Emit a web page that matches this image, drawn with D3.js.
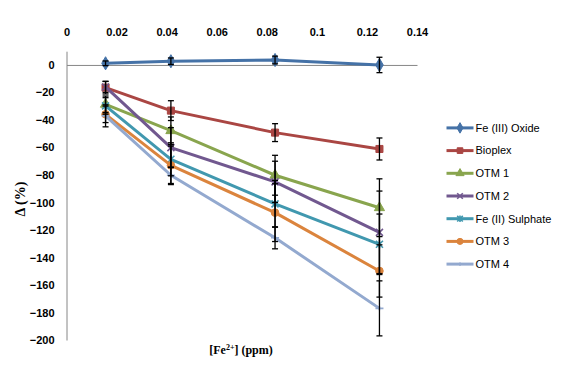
<!DOCTYPE html>
<html><head><meta charset="utf-8">
<script src="https://cdn.jsdelivr.net/npm/d3@7"></script>
<style>body{margin:0;background:#fff}</style>
</head><body>
<svg id="c" width="564" height="368"></svg>
<script>
const xValues = [0.0156, 0.0417, 0.0833, 0.125];
const xTicks = [0, 0.02, 0.04, 0.06, 0.08, 0.1, 0.12, 0.14];
const yTicks = [0, -20, -40, -60, -80, -100, -120, -140, -160, -180, -200];
const seriesNames = ["Fe (III) Oxide", "Bioplex", "OTM 1", "OTM 2", "Fe (II) Sulphate", "OTM 3", "OTM 4"];
const feOxide = [1.2, 2.7, 3.6, 0];
const bioplex = [-16.5, -33.2, -49.2, -61.1];
const otm1 = [-28.6, -47.8, -80.2, -103.8];
const otm2 = [-16, -60.1, -85, -121.7];
const feSulphate = [-29.8, -68.6, -101, -130.4];
const otm3 = [-35.9, -73, -107.4, -149.8];
const otm4 = [-37, -80.2, -125.7, -177];
const errFeOxide = [1.7, 2.4, 2.8, 5.6];
const errBioplex = [4.6, 7.2, 6.5, 8];
const errOtm1 = [6, 10, 14.5, 21];
const errOtm2 = [4, 14.5, 15, 30];
const errFeSulphate = [6, 12, 17, 22];
const errOtm3 = [6, 14, 21, 19];
const errOtm4 = [8, 6, 8, 20];

const values = [feOxide, bioplex, otm1, otm2, feSulphate, otm3, otm4];
const errors = [errFeOxide, errBioplex, errOtm1, errOtm2, errFeSulphate, errOtm3, errOtm4];
const colors = ["#4572A7", "#AA4643", "#89A54E", "#71588F", "#4198AF", "#DB843D", "#93A9CF"];
const markers = ["diamond", "square", "triangle", "x", "star", "circle", "dash"];

const svg = d3.select("#c");
const x = d3.scaleLinear().domain([0, 0.14]).range([66.5, 417]);
const y = d3.scaleLinear().domain([10, -200]).range([51.2, 340]);
const font = "Liberation Sans, Arial, sans-serif";

// y axis
const yAxis = d3.axisLeft(y).tickValues(yTicks).tickSize(0).tickPadding(12);
const gy = svg.append("g").attr("transform", `translate(${x(0)},0)`).call(yAxis);
gy.select(".domain").attr("stroke", "#868686").attr("stroke-width", 1);
gy.selectAll("text").attr("font-family", font).attr("font-size", 11).attr("font-weight", "bold").attr("fill", "#000");

// x axis at y=0, labels at the top
const xAxis = d3.axisTop(x).tickValues(xTicks).tickFormat(d3.format("~g")).tickSize(0);
const gx = svg.append("g").attr("transform", `translate(0,${y(0)})`).call(xAxis);
gx.select(".domain").attr("stroke", "#868686").attr("stroke-width", 1);
gx.selectAll("text").attr("font-family", font).attr("font-size", 11).attr("font-weight", "bold").attr("fill", "#000")
  .attr("y", 32 - y(0)).attr("dy", "0.35em");

function drawMarker(g, type, cx, cy, color, k) {
  const sym = {diamond: [d3.symbolDiamond, 50], square: [d3.symbolSquare, 50], triangle: [d3.symbolTriangle, 45], circle: [d3.symbolCircle, 45]}[type];
  const r = 3.5 * k;
  if (sym) {
    g.append("path").attr("d", d3.symbol(sym[0], sym[1] * k * k)()).attr("transform", `translate(${cx},${cy})`).attr("fill", color).attr("stroke", color);
  } else if (type === "x") {
    g.append("path").attr("d", `M${cx-r},${cy-r}L${cx+r},${cy+r}M${cx-r},${cy+r}L${cx+r},${cy-r}`).attr("stroke", color).attr("stroke-width", 1.6);
  } else if (type === "star") {
    g.append("path").attr("d", `M${cx-r},${cy-r}L${cx+r},${cy+r}M${cx-r},${cy+r}L${cx+r},${cy-r}M${cx},${cy-r-0.5}L${cx},${cy+r+0.5}`).attr("stroke", color).attr("stroke-width", 1.6);
  } else if (type === "dash") {
    g.append("path").attr("d", `M${cx-r-0.5},${cy}L${cx+r+0.5},${cy}M${cx},${cy-2*k}L${cx},${cy+2*k}`).attr("stroke", color).attr("stroke-width", 1.6);
  }
}

const line = d3.line().x(d => x(d[0])).y(d => y(d[1]));
values.forEach((vals, i) => {
  const pts = vals.map((v, j) => [xValues[j], v]);
  const g = svg.append("g");
  g.append("path").attr("d", line(pts)).attr("fill", "none").attr("stroke", colors[i]).attr("stroke-width", 3).attr("stroke-linejoin", "round");
  pts.forEach(p => drawMarker(g, markers[i], x(p[0]), y(p[1]), colors[i], 1));
});
// error bars
values.forEach((vals, i) => {
  const g = svg.append("g").attr("stroke", "#000").attr("stroke-width", 1.3);
  vals.forEach((v, j) => {
    const cx = x(xValues[j]), e = errors[i][j];
    const y1 = y(v + e), y2 = y(v - e);
    g.append("line").attr("x1", cx).attr("x2", cx).attr("y1", y1).attr("y2", y2);
    g.append("line").attr("x1", cx - 3).attr("x2", cx + 3).attr("y1", y1).attr("y2", y1);
    g.append("line").attr("x1", cx - 3).attr("x2", cx + 3).attr("y1", y2).attr("y2", y2);
  });
});

// legend
const legend = svg.append("g");
seriesNames.forEach((name, i) => {
  const ly = 127.9 + i * 22.7;
  legend.append("line").attr("x1", 446.5).attr("x2", 473.5).attr("y1", ly).attr("y2", ly).attr("stroke", colors[i]).attr("stroke-width", 3);
  drawMarker(legend, markers[i], 460, ly, colors[i], 0.8);
  legend.append("text").attr("x", 475.5).attr("y", ly).attr("dy", "0.35em").attr("font-family", font).attr("font-size", 11).attr("fill", "#000").text(name);
});

// axis titles
svg.append("text").attr("transform", "translate(25,199) rotate(-90)").attr("text-anchor", "middle")
  .attr("font-family", "Liberation Serif, Times New Roman, serif").attr("font-size", 14).attr("font-weight", "bold").text("Δ (%)");
const xt = svg.append("text").attr("x", 241).attr("y", 354).attr("text-anchor", "middle")
  .attr("font-family", "Liberation Serif, Times New Roman, serif").attr("font-size", 12).attr("font-weight", "bold");
xt.append("tspan").text("[Fe");
xt.append("tspan").attr("font-size", 8).attr("dy", -4).text("2+");
xt.append("tspan").attr("dy", 4).text("] (ppm)");
</script>
</body></html>
